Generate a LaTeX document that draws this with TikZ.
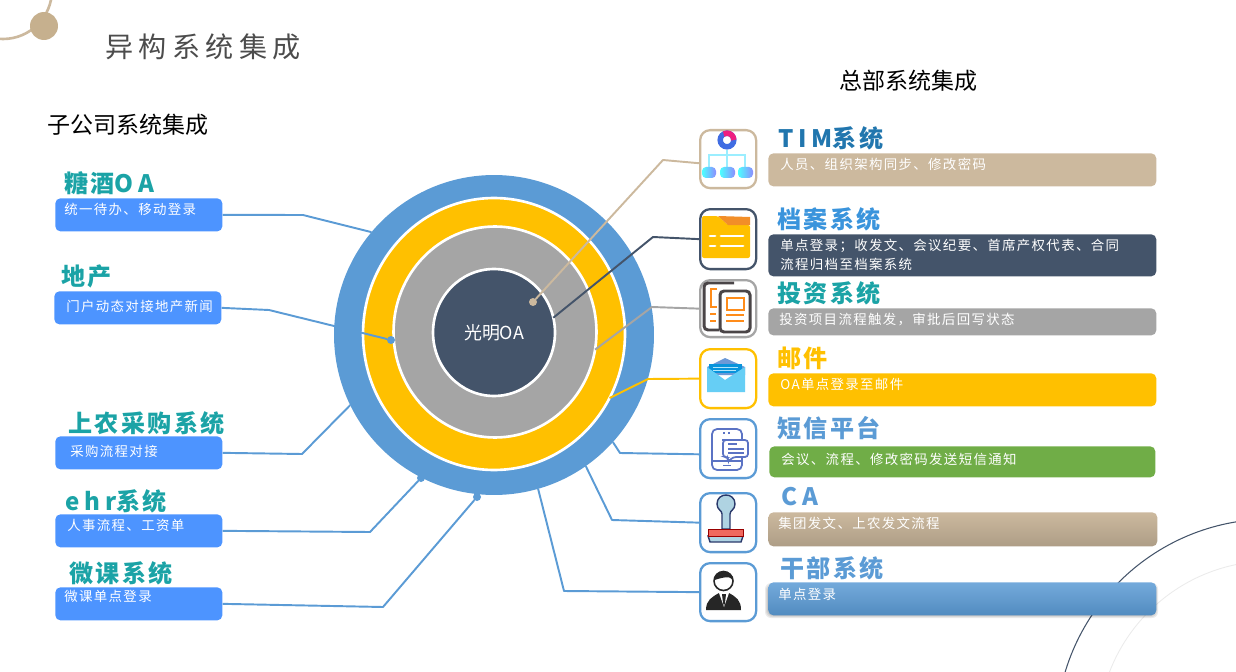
\documentclass[tikz,border=0pt]{standalone}
\usepackage{fontspec}
\setmainfont{Noto Sans CJK SC}
\newfontfamily\titlefont[LetterSpace=19]{Noto Sans CJK SC}
\newfontfamily\headfont[LetterSpace=10]{Noto Sans CJK SC}
\newfontfamily\headwide[LetterSpace=20]{Noto Sans CJK SC}
\newfontfamily\bodyfont[LetterSpace=10]{Noto Sans CJK SC}
\usetikzlibrary{shapes.geometric}
\definecolor{cblue}{HTML}{5B9BD5}
\definecolor{cgold}{HTML}{FFC000}
\definecolor{cgray}{HTML}{A5A5A5}
\definecolor{cdark}{HTML}{44546A}
\definecolor{ctan}{HTML}{CCB99E}
\definecolor{clogo}{HTML}{C6B08E}
\definecolor{cbox}{HTML}{4D94FF}
\definecolor{cteal}{HTML}{1BA3A6}
\definecolor{cgreen}{HTML}{70AD47}
\definecolor{cink}{HTML}{4A4547}
\definecolor{corange}{HTML}{FF8C1A}
\definecolor{cline}{HTML}{5B73C4}
\definecolor{cknob}{HTML}{AFD3E2}
\definecolor{cstamp}{HTML}{F0695E}
\definecolor{cnavy}{HTML}{2B3A6B}
\definecolor{ctim}{HTML}{2176AE}
\definecolor{cfile}{HTML}{3A94DC}
\definecolor{ctree}{HTML}{9BEEFF}
\begin{document}
\begin{tikzpicture}[x=0.02cm,y=-0.02cm,
ring/.style={ellipse,inner sep=0pt,outer sep=0pt,draw=white,line width=1.5pt},
dot/.style={circle,inner sep=0pt,outer sep=0pt,minimum size=0.16cm},
head/.style={anchor=west,inner sep=0pt,font=\headfont\fontsize{13.7}{15}\selectfont\bfseries},
body/.style={anchor=west,inner sep=0pt,text=white,font=\bodyfont\fontsize{7.65}{10.8}\selectfont},
lbox/.style={anchor=north west,inner sep=0pt,rounded corners=0.1cm,fill=cbox,minimum width=3.34cm,minimum height=0.66cm},
rbox/.style={anchor=north west,inner sep=0pt,rounded corners=0.1cm,minimum width=7.76cm,minimum height=0.66cm},
icon/.style={anchor=north west,inner sep=0pt,rounded corners=0.2cm,fill=white,line width=1.3pt,minimum width=1.12cm,minimum height=1.16cm},
link/.style={line width=1.1pt,line join=round},
sec/.style={inner sep=0pt,font=\fontsize{13.1}{15}\selectfont}]
\useasboundingbox (0,0) rectangle (1236,672);
\begin{scope}
\clip (0,0) rectangle (1236,672);
\draw[cdark,line width=0.6pt] (1271,734) circle (4.3cm);
\draw[black!8,line width=0.5pt] (1271,734) circle (3.46cm);
\draw[ctan,line width=1.5pt] (3,-10) circle (0.98cm);
\end{scope}
\foreach \g in {0,1,2}
  \fill[black,opacity=0.14] (46,28) circle ({0.28+0.02*\g});
\node[circle,inner sep=0pt,minimum size=0.56cm,fill=clogo] (logo) at (44,26) {};
\node[anchor=west,inner sep=0pt,text=black!70,font=\titlefont\fontsize{16}{18}\selectfont] (title) at (105,47) {异构系统集成};
\node[sec,anchor=west] (secLeft) at (47,125) {子公司系统集成};
\node[sec,anchor=west] (secRight) at (839,81) {总部系统集成};

\node[ring,draw=none,fill=cblue,minimum width=6.4cm,minimum height=6.4cm] (outer) at (494,335) {};
\node[ring,fill=cgold,minimum width=5.24cm,minimum height=5.44cm] (gold) at (494,334) {};
\node[ring,fill=cgray,minimum width=4.06cm,minimum height=4.22cm] (gray) at (495,332) {};
\node[ring,fill=cdark,minimum width=2.44cm,minimum height=2.54cm,text=white,font=\fontsize{10.2}{12}\selectfont] (hub) at (494,332.5) {光明OA};

\node[lbox] (tang) at (55,198) {};
\node[lbox] (dichan) at (54,291) {};
\node[lbox] (shangnong) at (55,436) {};
\node[lbox] (ehr) at (55,514) {};
\node[lbox] (weike) at (55,587) {};
\node[head,text=cteal] (tangH) at (64,183) {糖酒{\headwide OA}};
\node[head,text=cteal] (dichanH) at (61,276) {地产};
\node[head,text=cteal] (shangnongH) at (68,423) {上农采购系统};
\node[head,text=cteal] (ehrH) at (65,501) {{\headwide ehr}系统};
\node[head,text=cteal] (weikeH) at (69,573) {微课系统};
\node[body] (tangT) at (64,209) {统一待办、移动登录};
\node[body] (dichanT) at (66,306) {门户动态对接地产新闻};
\node[body] (shangnongT) at (70,451) {采购流程对接};
\node[body] (ehrT) at (67,525) {人事流程、工资单};
\node[body] (weikeT) at (64,596) {微课单点登录};

\node[rbox,fill=ctan] (tim) at (768,153) {};
\node[rbox,fill=cdark,minimum height=0.84cm] (dangan) at (768,234) {};
\node[rbox,fill=cgray,minimum height=0.54cm] (touzi) at (768,308) {};
\node[rbox,fill=cgold] (mail) at (768,373) {};
\node[rbox,fill=cgreen,minimum width=7.72cm,minimum height=0.62cm] (sms) at (769,446) {};
\node[rbox,top color=ctan,bottom color=ctan!85!black,minimum width=7.78cm,minimum height=0.68cm] (ca) at (768,512) {};
\foreach \g in {0,1,2,3}
  \fill[black,opacity=0.08,rounded corners=0.12cm] (768-\g,586-\g) rectangle (1155+\g,615+\g);
\node[rbox,top color=cblue!85!white,bottom color=cblue!90!black,minimum height=0.66cm] (ganbu) at (768,582) {};
\node[head,text=ctim] (timH) at (778,138) {{\headwide TIM}系统};
\node[head,text=cfile] (danganH) at (777,219) {档案系统};
\node[head,text=cteal] (touziH) at (777,293) {投资系统};
\node[head,text=cgold] (mailH) at (777,358) {邮件};
\node[head,text=cblue] (smsH) at (777,428) {短信平台};
\node[head,text=cblue] (caH) at (781,497) {{\headwide CA}};
\node[head,text=cblue] (ganbuH) at (780,568) {干部系统};
\node[body] (timT) at (780,164) {人员、组织架构同步、修改密码};
\node[body,align=left] (danganT) at (780,254.5) {单点登录；收发文、会议纪要、首席产权代表、合同\\流程归档至档案系统};
\node[body] (touziT) at (779,320) {投资项目流程触发，审批后回写状态};
\node[body] (mailT) at (780,384) {OA单点登录至邮件};
\node[body] (smsT) at (781,459) {会议、流程、修改密码发送短信通知};
\node[body] (caT) at (778,523) {集团发文、上农发文流程};
\node[body] (ganbuT) at (778,594) {单点登录};

\node[icon,draw=ctan] (iconTim) at (699,129) {};
\node[icon,draw=cdark,minimum height=1.2cm] (iconDangan) at (699,208) {};
\node[icon,draw=cgray,minimum height=1.14cm] (iconTouzi) at (699,279) {};
\node[icon,draw=cgold,minimum height=1.18cm] (iconMail) at (699,348) {};
\node[icon,draw=cblue,minimum height=1.18cm] (iconSms) at (699,418) {};
\node[icon,draw=cblue,minimum height=1.18cm] (iconCa) at (699,492) {};
\node[icon,draw=cblue] (iconGanbu) at (699,562) {};

\node[dot,fill=ctan] (dotTim) at (533,302) {};
\node[dot,fill=cblue] (dotDichan) at (391,340) {};
\node[dot,fill=cblue] (dotEhr) at (421,478) {};
\node[dot,fill=cblue] (dotWeike) at (477,497) {};

\draw[link,cblue] (tang.east) -- (303,215) -- (outer.140);
\draw[link,cblue] (dichan.east) -- (269,310) -- (dotDichan);
\draw[link,cblue] (shangnong.east) -- (302,454) -- (outer.206);
\draw[link,cblue] (ehr.east) -- (370,532) -- (dotEhr);
\draw[link,cblue] (weike.east) -- (383,607) -- (dotWeike);
\draw[link,ctan] (dotTim) -- (663,160) -- (iconTim.188);
\draw[link,cdark] (hub.14) -- (653,237) -- (iconDangan.west);
\draw[link,cgray] (gray.-10) -- (652,307) -- (iconTouzi.west);
\draw[link,cgold] (gold.-29) -- (648,379) -- (iconMail.west);
\draw[link,cblue] (outer.-42) -- (620,453) -- (iconSms.191);
\draw[link,cblue] (outer.-55) -- (612,520) -- (iconCa.west);
\draw[link,cblue] (outer.-74) -- (564,591) -- (iconGanbu.west);

\draw[ctree,line width=1.5pt] (709,168) -- (709,155) -- (745,155) -- (745,168) (727,150) -- (727,168);
\draw[cblue!70!blue,line width=3.1pt] (727,140) circle (0.136cm);
\draw[magenta!80!orange,line width=3.1pt] (733.8,140) arc (0:120:0.136cm);
\shade[left color=cyan!70,right color=blue!45!white,rounded corners=0.08cm] (702,167) rectangle (716,178);
\shade[left color=cyan!70,right color=blue!45!white,rounded corners=0.08cm] (720,167) rectangle (735,178);
\shade[left color=cyan!70,right color=blue!45!white,rounded corners=0.08cm] (738,167) rectangle (753,178);

\fill[cgold,rounded corners=0.04cm] (702,216) -- (718,216) -- (728,225) -- (750,225) -- (750,258) -- (702,258) -- cycle;
\fill[orange!75!ctan] (718,216) -- (750,217) -- (750,225) -- (728,225) -- cycle;
\draw[white,line width=1.7pt,line cap=round] (710,236) -- (715,236) (721,236) -- (743,236) (710,246) -- (715,246) (721,246) -- (743,246);

\draw[cink,line width=1.7pt,rounded corners=0.08cm] (734,283) -- (704,283) -- (704,330) -- (719,330);
\draw[cink,fill=white,line width=1.7pt,rounded corners=0.08cm] (720,291) rectangle (750,332);
\draw[corange,line width=1.6pt] (717,289) -- (711,289) -- (711,307) -- (717,307) (710,314) -- (716,314) (710,321) -- (716,321);
\draw[corange,line width=1.6pt] (727,298) rectangle (744,310) (726,315) -- (744,315) (726,321) -- (744,321);

\fill[cyan!50!blue!60!white] (707,367) -- (725,358) -- (745,367) -- (745,375) -- (707,375) -- cycle;
\fill[cyan!80!blue] (709,364) rectangle (742,373);
\fill[cyan!60!white] (707,367) -- (725,380) -- (745,367) -- (745,392) -- (707,392) -- cycle;
\draw[white!70!cyan,line width=0.4pt] (713,367) -- (738,367) (713,370) -- (736,370);

\draw[cline,line width=1pt,rounded corners=0.1cm] (712,429) rectangle (742,470);
\draw[cline,line width=1pt] (712,461) -- (742,461) (723,465.5) -- (731,465.5);
\draw[cline,line width=1pt,dotted] (723,433) -- (732,433);
\draw[cline,fill=white,line width=1pt,rounded corners=0.06cm] (725,440) -- (748,440) -- (748,457) -- (733,457) -- (728,462) -- (728,457) -- (723,457) -- (723,440) -- cycle;
\draw[cline,line width=0.8pt] (728,444) -- (737,444) (728,449) -- (744,449) (728,453) -- (744,453);

\draw[cnavy,fill=cknob,line width=0.8pt] (722,514) .. controls (722,510) and (717,510) .. (717,504) .. controls (717,492) and (735,492) .. (735,504) .. controls (735,510) and (730,510) .. (730,514) -- (730,529) -- (722,529) -- cycle;
\draw[cnavy,fill=cknob,line width=0.8pt] (708,536) -- (743,536) -- (741,542) -- (710,542) -- cycle;
\draw[red!60!black,fill=cstamp,line width=0.4pt] (708,529) rectangle (743,536);

\fill[black!85] (706,610) .. controls (706,600) and (712,597) .. (719,593) -- (729,593) .. controls (736,597) and (741,600) .. (741,610) -- cycle;
\fill[white] (719,593) -- (724,607) -- (729,593) -- cycle;
\fill[black!85] (722,594) -- (726,594) -- (725,603) -- (724,606) -- (723,603) -- cycle;
\draw[black!85,fill=white,line width=0.9pt] (723.5,581) circle (0.19cm);
\fill[black!85] (714.5,580) .. controls (714,569) and (733,569) .. (733,580) .. controls (730,575) and (721,578) .. (714.5,580) -- cycle;
\end{tikzpicture}
\end{document}
